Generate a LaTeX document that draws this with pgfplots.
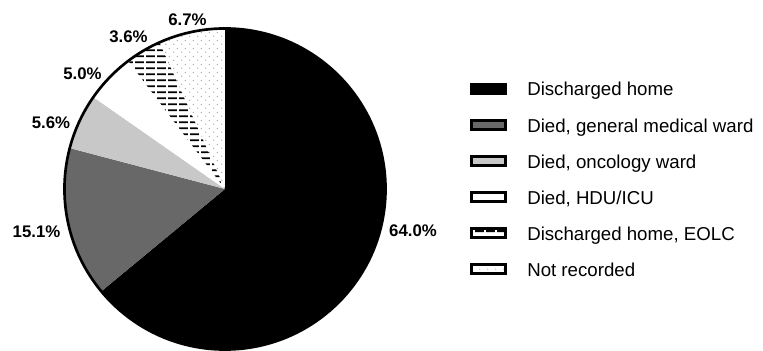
\documentclass[border=0pt]{standalone}
\usepackage{pgfplots}
\pgfplotsset{compat=1.18}
\usepackage{pgfplotstable}
\usepackage{fontspec}
\setmainfont{Liberation Sans}
\usetikzlibrary{patterns.meta}

\tikzdeclarepattern{
  name=hdash, type=uncolored,
  bounding box={(0pt,0pt) and (8.5pt,4.6pt)},
  tile size={(8.5pt,4.6pt)},
  code={\draw[line width=1.5pt] (0pt,2.3pt) -- (7pt,2.3pt);}
}
\tikzdeclarepattern{
  name=pdots, type=uncolored,
  bounding box={(0pt,0pt) and (5.6pt,6pt)},
  tile size={(5.6pt,6pt)},
  code={\fill (1.4pt,1.5pt) circle (0.45pt); \fill (4.2pt,4.5pt) circle (0.45pt);}
}

\definecolor{dgray}{RGB}{104,104,104}
\definecolor{lgray}{RGB}{200,200,200}
\definecolor{dotgray}{RGB}{130,130,130}

\tikzset{
  slice0/.style={fill=black},
  slice1/.style={fill=dgray},
  slice2/.style={fill=lgray},
  slice3/.style={fill=white},
  slice4/.style={pattern=hdash, pattern color=black},
  slice5/.style={pattern=pdots, pattern color=dotgray},
  lbl/.style={font=\fontsize{12.6pt}{14pt}\selectfont\bfseries, inner sep=0pt},
}

\pgfplotstableread{
slice pct
0 64.0
1 15.1
2 5.6
3 5.0
4 3.6
5 6.7
}\piedata

\begin{document}
\begin{tikzpicture}
\useasboundingbox (0,0) rectangle (572.25pt,262.5pt);
\begin{axis}[
  at={(0,0)}, anchor=south west,
  x=0.75pt, y=0.75pt,
  xmin=0, xmax=763, ymin=0, ymax=350,
  hide axis, clip=false,
]
\gdef\astart{90}
\pgfplotsforeachungrouped \i in {0,...,5}{%
  \pgfplotstablegetelem{\i}{pct}\of\piedata
  \pgfmathsetmacro\aend{\astart-3.6*\pgfplotsretval}%
  \edef\cmd{\noexpand\fill[slice\i] (axis cs:225,161) -- ++(\astart:120.4pt) arc[start angle=\astart,end angle=\aend,radius=120.4pt] -- cycle;}%
  \cmd
  \global\let\astart\aend
}
\draw[line width=2pt] (axis cs:225,161) circle[radius=120.4pt];

% slice labels
\node[lbl] at (axis cs:413,119) {64.0\%};
\node[lbl] at (axis cs:36.5,118) {15.1\%};
\node[lbl] at (axis cs:51,227) {5.6\%};
\node[lbl] at (axis cs:82.5,276.5) {5.0\%};
\node[lbl] at (axis cs:128.5,313.5) {3.6\%};
\node[lbl] at (axis cs:187.5,330) {6.7\%};

% legend
\foreach \r/\sty/\lab in {0/slice0/{Discharged home},
                          1/slice1/{Died, general medical ward},
                          2/slice2/{Died, oncology ward},
                          3/slice3/{Died, HDU/ICU},
                          4/slice4/{Discharged home, EOLC},
                          5/slice5/{Not recorded}}{
  \pgfmathsetmacro\cy{350-(89+36*\r)}
  \edef\cmd{\noexpand\draw[\sty, draw=black, line width=2.2pt] (axis cs:471.5,\cy-4.5) rectangle (axis cs:505.5,\cy+4.5);}
  \cmd
  \pgfmathsetmacro\by{\cy-7}
  \edef\cmd{\noexpand\node[anchor=base west, inner sep=0pt, font=\noexpand\fontsize{14pt}{16pt}\noexpand\selectfont] at (axis cs:527,\by) {\lab};}
  \cmd
}
\end{axis}
\end{tikzpicture}
\end{document}
